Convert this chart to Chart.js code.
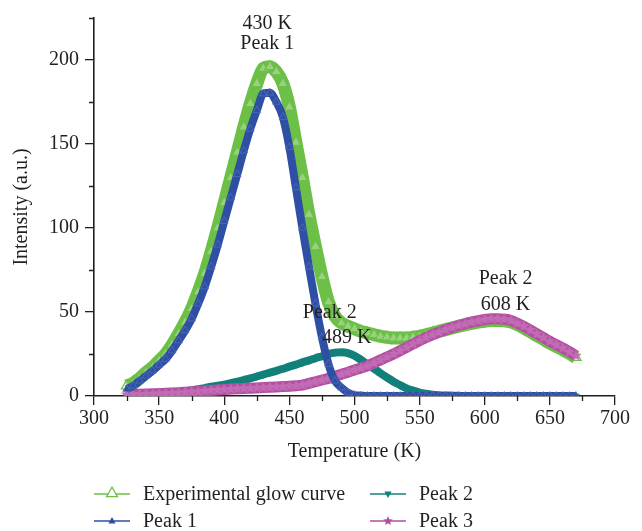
<!DOCTYPE html>
<html>
<head>
<meta charset="utf-8">
<script src="https://cdn.jsdelivr.net/npm/chart.js@4/dist/chart.umd.min.js"></script>
<style>
  body { margin: 0; background: #fff; }
  #wrap { width: 642px; height: 531px; }
</style>
</head>
<body>
<div id="wrap"><canvas id="tl-chart" width="642" height="531"></canvas></div>
<script>
// Temperature grid (K), every 5 K
const temps = [325,330,335,340,345,350,355,360,365,370,
  375,380,385,390,395,400,405,410,415,420,
  425,430,435,440,445,450,455,460,465,470,
  475,480,485,490,495,500,505,510,515,520,
  525,530,535,540,545,550,555,560,565,570,
  575,580,585,590,595,600,605,610,615,620,
  625,630,635,640,645,650,655,660,665,670];

const experimental = [6,7.5,10.5,14,17,21,25,30.5,37,44,
  52,62,73,86,100,115,130,145,160,174,
  186,195,196,193,186,172,151,130,108,89,
  71,56,47.5,43.5,41.5,40,38.5,37.5,36.5,35.5,
  35,34.5,34.5,34.5,35,35.5,36.5,37.5,38.5,39.5,
  40.5,41.5,42.5,43.3,44,44.5,45,45,44.7,44,
  42.5,40.5,38.3,36,33.8,31.5,29.5,27.5,25.3,23];

const peak1 = [4,6,9,12,15,18.5,22,27,33,39,
  46,55,65,77,90,104,118,132,146,159,
  170,180,180.5,175,166,148,124,100,77,55,
  35,19,9,5,2,0.5,0.2,0,0,0,
  0,0,0,0,0,0,0,0,0,0,
  0,0,0,0,0,0,0,0,0,0,
  0,0,0,0,0,0,0,0,0,0];

const peak2 = [0.3,0.4,0.5,0.7,0.9,1.2,1.5,1.9,2.3,2.8,
  3.4,4,4.7,5.5,6.1,6.8,7.6,8.5,9.5,10.5,
  11.6,12.8,13.9,15,16.2,17.5,18.7,20,21.2,22.5,
  23.7,25,25.8,26,25.5,24,21.5,19,16.3,13.5,
  11,8.5,6.5,4.5,3.2,2,1.3,0.8,0.5,0.3,
  0.2,0.1,0,0,0,0,0,0,0,0,
  0,0,0,0,0,0,0,0,0,0];

const peak3 = [1,1,1.1,1.2,1.3,1.5,1.6,1.8,2,2.2,
  2.5,2.7,3,3.3,3.6,3.9,4.1,4.3,4.5,4.6,
  4.8,5,5.2,5.4,5.6,5.8,6.1,6.5,7.5,8.5,
  9.5,10.5,11.7,13,14.2,15.5,16.7,18,19.7,21.5,
  23.2,25,27,29,31,33,34.8,36.5,38,39.5,
  40.8,42,43,44,44.8,45.5,46,46,45.7,45,
  43.3,41.5,39.3,37,34.8,32.5,30.5,28.5,26.3,24];

const seriesNames = ['Experimental glow curve', 'Peak 1', 'Peak 2', 'Peak 3'];

// peak labels, in data units
const noteText = ['430 K', 'Peak 1', 'Peak 2', '489 K', 'Peak 2', '608 K'];
const noteX = [433, 433, 481, 494, 616, 616];
const noteY = [221.5, 209.5, 49.5, 34.5, 70, 54.5];

const GREEN = '#6cbf47';
const BLUE = '#2f4fa5';
const TEAL = '#12807a';
const PINK = '#b24fa3';
const INK = '#231f20';
const FONT = "'Liberation Serif', 'Times New Roman', serif";

function toPoints(ys) {
  return temps.map((t, i) => ({ x: t, y: ys[i] }));
}

function starCanvas(r, color) {
  const c = document.createElement('canvas');
  c.width = c.height = 2 * r + 2;
  const g = c.getContext('2d');
  drawStar(g, r + 1, r + 1, r, color);
  return c;
}

function drawStar(g, cx, cy, r, color) {
  g.fillStyle = color;
  g.beginPath();
  for (let i = 0; i < 10; i++) {
    const a = -Math.PI / 2 + i * Math.PI / 5;
    const rr = i % 2 ? r * 0.45 : r;
    g.lineTo(cx + rr * Math.cos(a), cy + rr * Math.sin(a));
  }
  g.closePath();
  g.fill();
}

function drawTri(g, cx, cy, r, down, fill, stroke) {
  const s = down ? -1 : 1;
  g.beginPath();
  g.moveTo(cx, cy - s * r);
  g.lineTo(cx + r * 0.9, cy + s * r * 0.6);
  g.lineTo(cx - r * 0.9, cy + s * r * 0.6);
  g.closePath();
  if (fill) { g.fillStyle = fill; g.fill(); }
  if (stroke) { g.strokeStyle = stroke; g.lineWidth = 1.3; g.stroke(); }
}

// minor ticks every 25 on both axes
const minorTicks = {
  id: 'minorTicks',
  afterDraw(chart) {
    const { ctx, scales: { x, y } } = chart;
    ctx.save();
    ctx.strokeStyle = INK;
    ctx.lineWidth = 1.3;
    ctx.beginPath();
    for (let v = 325; v < 700; v += 50) {
      const px = Math.round(x.getPixelForValue(v)) + 0.5;
      ctx.moveTo(px, y.bottom);
      ctx.lineTo(px, y.bottom + 5);
    }
    for (let v = 25; v <= 225; v += 50) {
      const py = Math.round(y.getPixelForValue(v)) + 0.5;
      ctx.moveTo(x.left, py);
      ctx.lineTo(x.left - 5, py);
    }
    ctx.stroke();
    ctx.restore();
  }
};

const peakNotes = {
  id: 'peakNotes',
  afterDatasetsDraw(chart) {
    const { ctx, scales: { x, y } } = chart;
    ctx.save();
    ctx.font = '20px ' + FONT;
    ctx.fillStyle = INK;
    ctx.textAlign = 'center';
    ctx.textBaseline = 'middle';
    noteText.forEach((t, i) => {
      ctx.fillText(t, x.getPixelForValue(noteX[i]), y.getPixelForValue(noteY[i]));
    });
    ctx.restore();
  }
};

// two-column legend under the axis: line + marker + name
const bottomLegend = {
  id: 'bottomLegend',
  afterDraw(chart) {
    const ctx = chart.ctx;
    const slots = [
      { x: 94, y: 494 }, { x: 94, y: 521 },
      { x: 370, y: 494 }, { x: 370, y: 521 }
    ];
    const colors = [GREEN, BLUE, TEAL, PINK];
    ctx.save();
    ctx.font = '20px ' + FONT;
    ctx.textBaseline = 'middle';
    slots.forEach((s, i) => {
      ctx.strokeStyle = colors[i];
      ctx.lineWidth = 1.5;
      ctx.beginPath();
      ctx.moveTo(s.x, s.y);
      ctx.lineTo(s.x + 36, s.y);
      ctx.stroke();
      const mx = s.x + 18;
      if (i === 0) drawTri(ctx, mx, s.y - 1, 6, false, '#fff', GREEN);
      if (i === 1) drawTri(ctx, mx, s.y, 4, false, BLUE, null);
      if (i === 2) drawTri(ctx, mx, s.y, 4, true, TEAL, null);
      if (i === 3) drawStar(ctx, mx, s.y, 5, PINK);
      ctx.fillStyle = INK;
      ctx.fillText(seriesNames[i], s.x + 49, s.y + 1);
    });
    ctx.restore();
  }
};

const ctx = document.getElementById('tl-chart').getContext('2d');
const tlChart = new Chart(ctx, {
  type: 'line',
  data: {
    datasets: [
      {
        label: seriesNames[1], data: toPoints(peak1), order: 0,
        borderColor: BLUE, borderWidth: 8, cubicInterpolationMode: 'monotone',
        pointStyle: 'triangle', pointRadius: 4.5, pointBackgroundColor: BLUE,
        pointBorderColor: '#5d77bd', pointBorderWidth: 0.6, clip: 0
      },
      {
        label: seriesNames[3], data: toPoints(peak3), order: 1,
        borderColor: PINK, borderWidth: 11, cubicInterpolationMode: 'monotone',
        pointStyle: starCanvas(6, '#c26cb5'), pointRadius: 6, clip: 0
      },
      {
        label: seriesNames[2], data: toPoints(peak2), order: 2,
        borderColor: TEAL, borderWidth: 8, cubicInterpolationMode: 'monotone',
        pointStyle: 'triangle', pointRotation: 180, pointRadius: 4, pointBackgroundColor: TEAL,
        pointBorderColor: TEAL, pointBorderWidth: 0.5, clip: 0
      },
      {
        label: seriesNames[0], data: toPoints(experimental), order: 3,
        borderColor: GREEN, borderWidth: 13, cubicInterpolationMode: 'monotone',
        pointStyle: 'triangle', pointRadius: 6, pointBackgroundColor: 'rgba(255,255,255,0.3)',
        pointBorderColor: GREEN, pointBorderWidth: 1.2, clip: 0
      }
    ]
  },
  options: {
    responsive: false,
    animation: false,
    layout: { padding: { top: 12, right: 27, bottom: 65, left: 0 } },
    plugins: { legend: { display: false }, tooltip: { enabled: false } },
    scales: {
      x: {
        type: 'linear', min: 300, max: 700,
        ticks: { stepSize: 50, color: INK, font: { family: FONT, size: 20 }, padding: 2, maxRotation: 0 },
        grid: { drawOnChartArea: false, drawTicks: true, tickLength: 9, color: INK, lineWidth: 1.3 },
        border: { color: INK, width: 1.6 },
        title: { display: true, text: 'Temperature (K)', color: INK, font: { family: FONT, size: 20 }, padding: { top: 0, bottom: 2 } },
        afterFit: s => { s.height = 70; }
      },
      y: {
        min: 0, max: 225,
        ticks: { stepSize: 50, color: INK, font: { family: FONT, size: 20 }, padding: 6 },
        afterBuildTicks: s => { s.ticks = s.ticks.filter(t => t.value % 50 === 0); },
        grid: { drawOnChartArea: false, drawTicks: true, tickLength: 9, color: INK, lineWidth: 1.3 },
        border: { color: INK, width: 1.6 },
        title: { display: true, text: 'Intensity (a.u.)', color: INK, font: { family: FONT, size: 20 }, padding: { top: 10, bottom: 0 } },
        afterFit: s => { s.width = 94; }
      }
    }
  },
  plugins: [minorTicks, peakNotes, bottomLegend]
});
</script>
</body>
</html>
